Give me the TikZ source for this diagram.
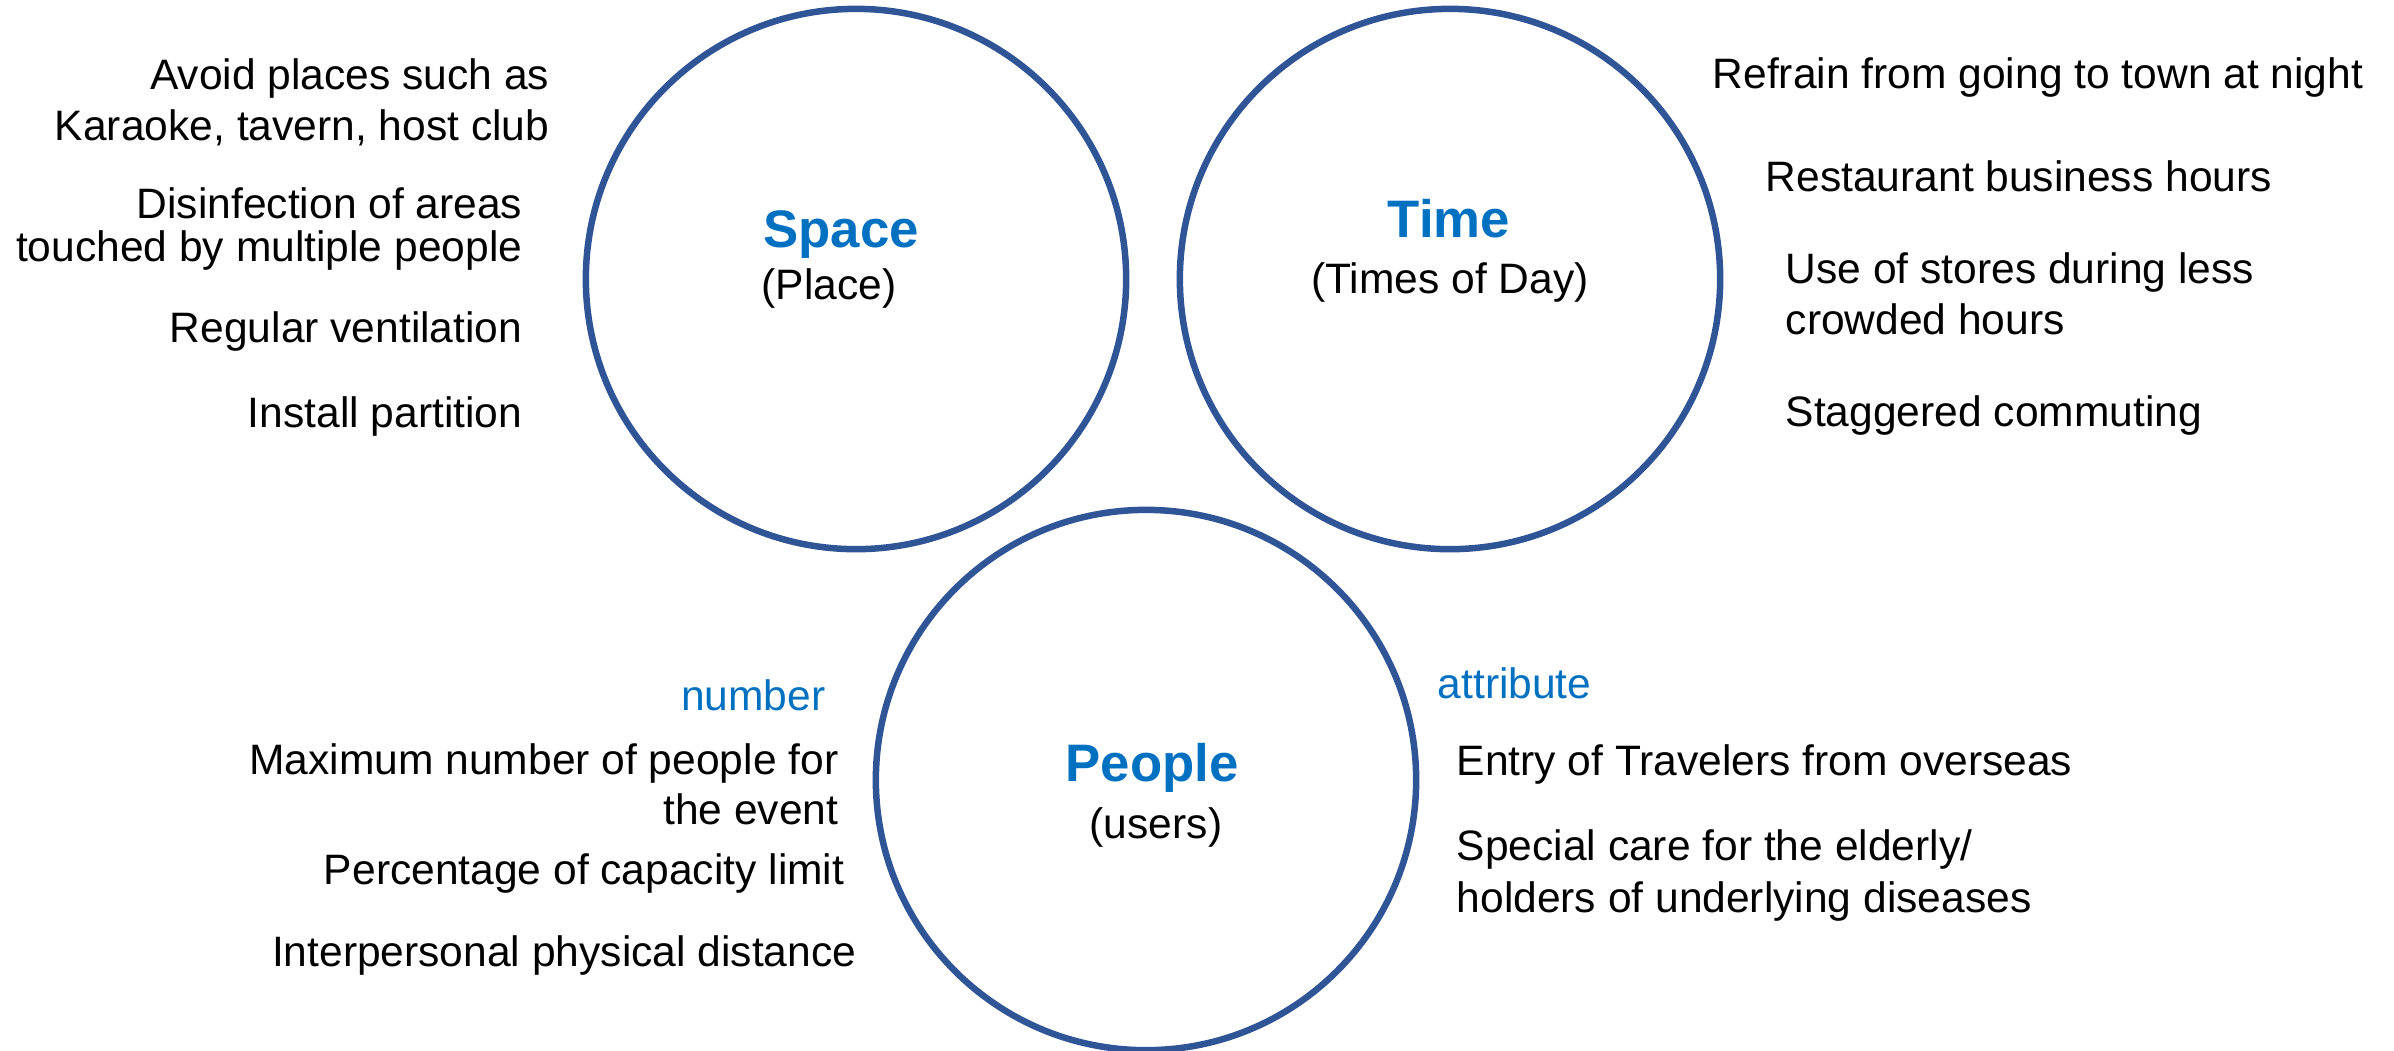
\documentclass[tikz,border=0pt]{standalone}
\usepackage{fontspec}
\setmainfont{Liberation Sans}
\definecolor{ringblue}{HTML}{2F5597}
\definecolor{headblue}{HTML}{0070C0}
\begin{document}
\begin{tikzpicture}[x=0.01cm, y=-0.01cm,
  ring/.style={circle, draw=ringblue, line width=0.065cm, inner sep=0pt, minimum size=5.40cm},
  item/.style={inner sep=0pt, font=\fontsize{12.1pt}{14pt}\selectfont, text=black},
  itemL/.style={item, anchor=base east},
  itemR/.style={item, anchor=base west},
  head/.style={inner sep=0pt, anchor=base, font=\fontsize{15pt}{17pt}\selectfont\bfseries, text=headblue},
  sub/.style={item, anchor=base},
  tag/.style={item, text=headblue}]
\useasboundingbox (0,0) rectangle (2394,1050);

% the three circles
\node[ring] (space)  at (856,279) {};
\node[ring] (time)   at (1450,279) {};
\node[ring] (people) at (1146,780) {};

% circle titles
\node[head] (spaceT)  at (841,247) {Space};
\node[sub]  (spaceS)  at (829,299) {(Place)};
\node[head] (timeT)   at (1449,237) {Time};
\node[sub]  (timeS)   at (1450,293) {(Times of Day)};
\node[head] (peopleT) at (1152,781) {People};
\node[sub]  (peopleS) at (1156,838) {(users)};

% measures concerning space
\node[itemL] (av1) at (550,89)  {Avoid places such as};
\node[itemL] (av2) at (550,140) {Karaoke, tavern, host club};
\node[itemL] (di1) at (523,218) {Disinfection of areas};
\node[itemL] (di2) at (523,261) {touched by multiple people};
\node[itemL] (rv)  at (523,342) {Regular ventilation};
\node[itemL] (ip)  at (523,427) {Install partition};

% measures concerning time
\node[itemR] (rf)  at (1712,88)  {Refrain from going to town at night};
\node[itemR] (rb)  at (1765,191) {Restaurant business hours};
\node[itemR] (us1) at (1785,283) {Use of stores during less};
\node[itemR] (us2) at (1785,334) {crowded hours};
\node[itemR] (sc)  at (1785,426) {Staggered commuting};

% measures concerning people: number
\node[tag, anchor=base east] (num) at (826,710) {number};
\node[itemL] (mx1) at (839,774) {Maximum number of people for};
\node[itemL] (mx2) at (839,824) {the event};
\node[itemL] (pc)  at (845,884) {Percentage of capacity limit};
\node[itemL] (ipd) at (857,966) {Interpersonal physical distance};

% measures concerning people: attribute
\node[tag, anchor=base west] (att) at (1437,698) {attribute};
\node[itemR] (en)  at (1456,775) {Entry of Travelers from overseas};
\node[itemR] (sp1) at (1456,860) {Special care for the elderly/};
\node[itemR] (sp2) at (1456,912) {holders of underlying diseases};
\end{tikzpicture}
\end{document}
